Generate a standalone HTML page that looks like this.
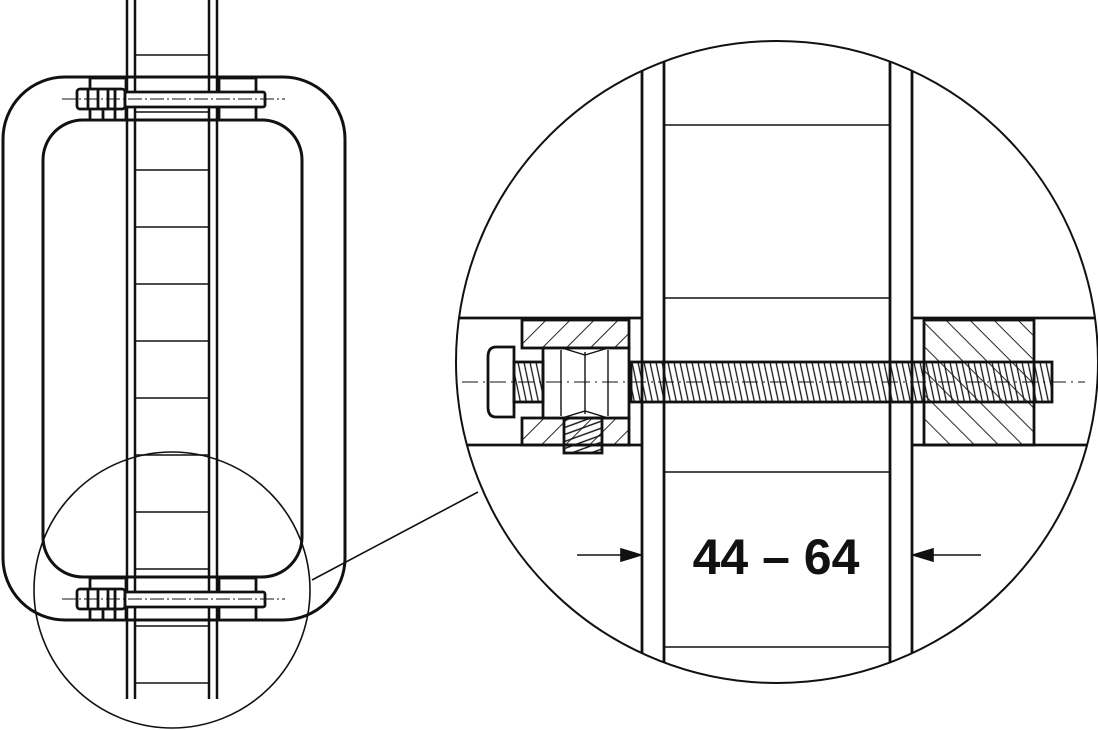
<!DOCTYPE html>
<html><head><meta charset="utf-8"><style>
html,body{margin:0;padding:0;background:#fff;}
svg{display:block}
</style></head><body>
<svg width="1098" height="730" viewBox="0 0 1098 730" xmlns="http://www.w3.org/2000/svg">
<defs>
<pattern id="h1" patternUnits="userSpaceOnUse" width="17" height="17" patternTransform="rotate(45)">
<line x1="0" y1="0" x2="0" y2="17" stroke="#111" stroke-width="1.8"/></pattern>
<pattern id="h2" patternUnits="userSpaceOnUse" width="17" height="17" patternTransform="rotate(-45)">
<line x1="0" y1="0" x2="0" y2="17" stroke="#111" stroke-width="1.8"/></pattern>
<pattern id="th" patternUnits="userSpaceOnUse" width="6" height="40" patternTransform="skewX(12)">
<line x1="3" y1="0" x2="3" y2="40" stroke="#111" stroke-width="1.3"/></pattern>
<pattern id="th2" patternUnits="userSpaceOnUse" width="40" height="7" patternTransform="skewY(-20)">
<line x1="0" y1="3" x2="40" y2="3" stroke="#111" stroke-width="1.4"/></pattern>
<clipPath id="bc"><circle cx="777" cy="362" r="321"/></clipPath>
</defs>
<g fill="none" stroke="#111" stroke-width="3">
<rect x="3" y="77" width="342" height="543" rx="62" fill="#fff"/>
<rect x="43" y="120" width="259" height="457" rx="40" fill="#fff"/>
</g>
<g stroke="#111" fill="none">
<g stroke-width="2.5">
<line x1="127" y1="0" x2="127" y2="699"/><line x1="135" y1="0" x2="135" y2="699"/>
<line x1="209" y1="0" x2="209" y2="699"/><line x1="217" y1="0" x2="217" y2="699"/>
</g>
<g stroke-width="1.6">
<line x1="135" y1="55" x2="209" y2="55"/><line x1="135" y1="112" x2="209" y2="112"/>
<line x1="135" y1="170" x2="209" y2="170"/><line x1="135" y1="227" x2="209" y2="227"/>
<line x1="135" y1="284" x2="209" y2="284"/><line x1="135" y1="341" x2="209" y2="341"/>
<line x1="135" y1="398" x2="209" y2="398"/><line x1="135" y1="455" x2="209" y2="455"/>
<line x1="135" y1="512" x2="209" y2="512"/><line x1="135" y1="569" x2="209" y2="569"/>
<line x1="135" y1="626" x2="209" y2="626"/><line x1="135" y1="683" x2="209" y2="683"/>
</g>
<g id="bk" stroke-width="2.8">
<rect x="90" y="78" width="36" height="42" fill="#fff"/>
<rect x="219" y="78" width="37" height="42" fill="#fff"/>
<rect x="77" y="89" width="48" height="20" rx="3" fill="#fff"/>
<line x1="88" y1="89" x2="88" y2="109"/><line x1="98" y1="89" x2="98" y2="109"/><line x1="108" y1="89" x2="108" y2="109"/><line x1="115" y1="89" x2="115" y2="109"/>
<rect x="103" y="109" width="12" height="11" fill="#fff"/>
<rect x="125" y="92" width="140" height="15" rx="2" fill="#fff"/>
<line x1="62" y1="99" x2="285" y2="99" stroke-width="1" stroke-dasharray="14,3,2,3"/>
</g>
<use href="#bk" transform="translate(0,500)"/>
<circle cx="172" cy="590" r="138" stroke-width="1.6"/>
<line x1="312" y1="580" x2="478" y2="492" stroke-width="1.6"/>
</g>
<circle cx="777" cy="362" r="321" fill="#fff" stroke="#111" stroke-width="2"/>
<g clip-path="url(#bc)" stroke="#111" fill="none">
<g stroke-width="2.8">
<line x1="642" y1="0" x2="642" y2="730"/><line x1="664" y1="0" x2="664" y2="730"/>
<line x1="890" y1="0" x2="890" y2="730"/><line x1="912" y1="0" x2="912" y2="730"/>
<line x1="440" y1="318" x2="642" y2="318"/><line x1="440" y1="445" x2="642" y2="445"/>
<line x1="912" y1="318" x2="1110" y2="318"/><line x1="912" y1="445" x2="1110" y2="445"/>
</g>
<g stroke-width="1.6">
<line x1="664" y1="125" x2="890" y2="125"/><line x1="664" y1="298" x2="890" y2="298"/>
<line x1="664" y1="472" x2="890" y2="472"/><line x1="664" y1="647" x2="890" y2="647"/>
</g>
<g stroke-width="2.8">
<rect x="522" y="320" width="107" height="28" fill="url(#h1)"/>
<rect x="522" y="418" width="107" height="27" fill="url(#h1)"/>
<rect x="924" y="320" width="110" height="125" fill="url(#h2)"/>
<rect x="543" y="348" width="86" height="70" fill="#fff"/>
<line x1="561" y1="350" x2="561" y2="416" stroke-width="1.4"/>
<line x1="608" y1="350" x2="608" y2="416" stroke-width="1.4"/>
<line x1="585" y1="352" x2="585" y2="414" stroke-width="1.4"/>
<path d="M562 348 L585 355 L608 348 M562 418 L585 411 L608 418" stroke-width="1.4"/>
<rect x="564" y="418" width="38" height="35" fill="url(#th2)"/>
<path d="M514 347 L496 347 Q488 347 488 357 L488 407 Q488 417 496 417 L514 417 Z" fill="#fff"/>
<rect x="514" y="362" width="29" height="40" fill="url(#th)"/>
<rect x="631" y="362" width="421" height="40" fill="url(#th)"/>
</g>
<line x1="462" y1="382" x2="1085" y2="382" stroke-width="1" stroke-dasharray="16,5,2,5"/>
</g>
<g stroke="#111" stroke-width="1.6" fill="#111">
<line x1="577" y1="555" x2="628" y2="555"/>
<polygon points="641,555 621,549 621,561"/>
<line x1="926" y1="555" x2="981" y2="555"/>
<polygon points="913,555 933,549 933,561"/>
</g>
<text x="776" y="574" text-anchor="middle" font-family="Liberation Sans, sans-serif" font-weight="bold" font-size="50" fill="#111">44 – 64</text>
</svg>
</body></html>
